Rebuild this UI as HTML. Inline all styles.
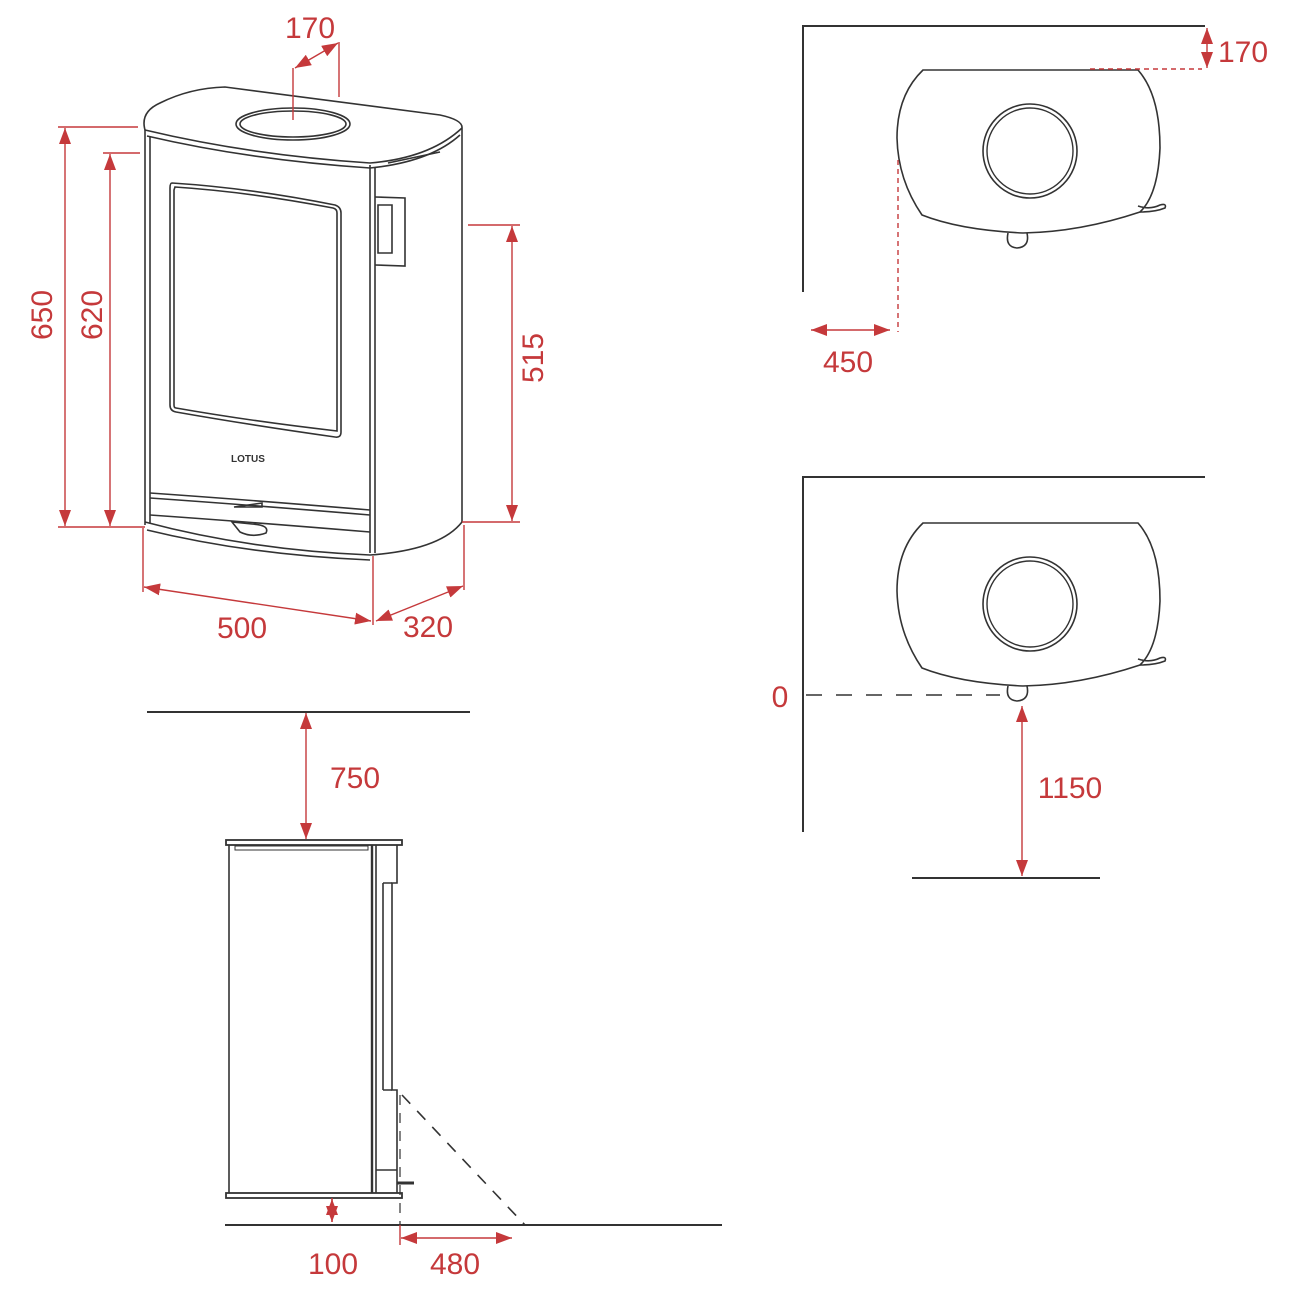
<!DOCTYPE html>
<html><head><meta charset="utf-8"><style>
html,body{margin:0;padding:0;background:#fff}
svg{display:block}
text{font-family:"Liberation Sans",sans-serif;font-size:30px;fill:#c5393b}
</style></head><body>
<svg width="1300" height="1300" viewBox="0 0 1300 1300" xmlns="http://www.w3.org/2000/svg">
<defs>
<marker id="a" viewBox="0 0 10 10" refX="9" refY="5" markerWidth="5" markerHeight="4" orient="auto-start-reverse" markerUnits="userSpaceOnUse" style="overflow:visible">
<path d="M0,0 L10,5 L0,10 z" fill="#c5393b" transform="scale(1.6,1.2) translate(-3.5,0.8)"/>
</marker>
<marker id="b" viewBox="0 0 16 12" refX="16" refY="6" markerWidth="16" markerHeight="12" orient="auto-start-reverse" markerUnits="userSpaceOnUse">
<path d="M0,0 L16,6 L0,12 z" fill="#c5393b"/>
</marker>
</defs>
<g fill="none" stroke="#333" stroke-width="1.6">
<!-- FRONT VIEW -->
<path d="M145,130 Q140,112 160,103 Q190,88 225,87 L440,115 Q463,120 462,128"/>
<path d="M145,130 Q250,155 370,163 Q430,158 462,128"/>
<path d="M147,136 Q250,160 370,168 Q430,162 460,135"/>
<ellipse cx="293" cy="124" rx="57" ry="16"/>
<ellipse cx="293" cy="124" rx="53" ry="13"/>
<path d="M145,130 L145,525"/><path d="M150,136 L150,523"/>
<path d="M462,128 L462,522"/>
<path d="M370,165 L370,553"/><path d="M375,167 L375,553"/>
<path d="M145,522 Q250,550 370,555 Q440,550 462,522"/>
<path d="M147,530 Q250,555 370,560"/>
<path d="M172,183 Q250,188 335,205 Q341,207 341,213 L341,432 Q341,438 335,437 Q250,425 176,412 Q170,411 170,405 L170,188 Q170,183 172,183 Z"/>
<path d="M175,187 Q250,192 333,208 Q337,209 337,213 L337,431 Q250,421 176,408 Q174,408 174,405 L174,190 Z"/>
<path d="M375,197 L405,198 L405,266 L375,265"/>
<path d="M378,205 L392,205 L392,253 L378,253 Z"/>
<path d="M150,493 Q250,500 370,510"/><path d="M150,498 Q250,505 370,515"/>
<path d="M234,507 L262,503 L262,507 Z"/>
<path d="M150,515 Q250,522 370,532"/>
<path d="M232,522 L252,524 Q270,525 266,533 Q252,538 240,532 Z"/>
<path d="M388,163 L440,152"/>
<!-- SIDE VIEW -->
<path d="M147,712 L470,712" stroke-width="2"/>
<rect x="226" y="840" width="176" height="5" stroke-width="1.8"/>
<path d="M235,846 L368,846 L368,850 L235,850 Z" stroke-width="1"/>
<path d="M229,845 L229,1193"/>
<path d="M372,845 L372,1193" stroke-width="2.4"/>
<path d="M376,845 L376,1193"/>
<path d="M397,845 L397,883 L392,883 L392,1090 L397,1090 L397,1193"/>
<path d="M383,883 L383,1090"/><path d="M383,883 L392,883 M383,1090 L392,1090"/>
<path d="M376,1170 L397,1170"/>
<path d="M397,1183 L414,1183" stroke-width="3"/>
<rect x="226" y="1193" width="176" height="5" stroke-width="1.8"/>
<path d="M225,1225 L722,1225" stroke-width="2"/>
<path d="M400,1095 L400,1225" stroke-dasharray="10,8" stroke-width="1.2"/>
<path d="M402,1095 L525,1225" stroke-dasharray="12,10" stroke-width="1.6"/>
<!-- TOP PLAN 1 -->
<path d="M803,292 L803,26 L1205,26" stroke-width="2"/>
<path d="M923,70 L1138,70 Q1160,95 1160,148 Q1158,195 1140,212 Q1080,232 1023,233 Q960,230 922,215 Q898,180 897,138 Q897,95 923,70 Z"/>
<circle cx="1030" cy="151" r="47" stroke-width="1.6"/>
<circle cx="1030" cy="151" r="43" stroke-width="1.4"/>
<path d="M1008,233 Q1005,247 1017,248 Q1030,247 1027,233"/>
<path d="M1140,212 Q1155,212 1165,208 Q1167,203 1160,205 Q1150,210 1138,206"/>
<!-- TOP PLAN 2 -->
<path d="M803,832 L803,477 L1205,477" stroke-width="2"/>
<g transform="translate(0,453)">
<path d="M923,70 L1138,70 Q1160,95 1160,148 Q1158,195 1140,212 Q1080,232 1023,233 Q960,230 922,215 Q898,180 897,138 Q897,95 923,70 Z"/>
<circle cx="1030" cy="151" r="47" stroke-width="1.6"/>
<circle cx="1030" cy="151" r="43" stroke-width="1.4"/>
<path d="M1008,233 Q1005,247 1017,248 Q1030,247 1027,233"/>
<path d="M1140,212 Q1155,212 1165,208 Q1167,203 1160,205 Q1150,210 1138,206"/>
</g>
<path d="M806,695 L1000,695" stroke-dasharray="16,14" stroke-width="1.6"/>
<path d="M912,878 L1100,878" stroke-width="2"/>
</g>
<!-- RED DIMENSIONS -->
<g fill="none" stroke="#c5393b" stroke-width="1.4">
<path d="M293,120 L293,68 M339,97 L339,42"/>
<path d="M58,127 L138,127 M58,527 L145,527 M103,153 L140,153"/>
<path d="M468,225 L520,225 M462,522 L520,522"/>
<path d="M143,528 L143,592 M373,556 L373,625 M464,525 L464,590"/>
<path d="M332,1198 L332,1222"/>
<path d="M400,1225 L400,1245"/>
<path d="M1090,69 L1202,69" stroke-dasharray="5,4"/>
<path d="M898,160 L898,332" stroke-dasharray="5,4"/>
<path d="M295,68 L338,43" marker-start="url(#b)" marker-end="url(#b)"/>
<path d="M65,128 L65,526" marker-start="url(#b)" marker-end="url(#b)"/>
<path d="M110,154 L110,526" marker-start="url(#b)" marker-end="url(#b)"/>
<path d="M512,226 L512,521" marker-start="url(#b)" marker-end="url(#b)"/>
<path d="M144,587 L371,621" marker-start="url(#b)" marker-end="url(#b)"/>
<path d="M376,621 L463,586" marker-start="url(#b)" marker-end="url(#b)"/>
<path d="M306,713 L306,839" marker-start="url(#b)" marker-end="url(#b)"/>
<path d="M332,1199 L332,1222" marker-start="url(#b)" marker-end="url(#b)"/>
<path d="M401,1238 L512,1238" marker-start="url(#b)" marker-end="url(#b)"/>
<path d="M1207,28 L1207,68" marker-start="url(#b)" marker-end="url(#b)"/>
<path d="M811,330 L890,330" marker-start="url(#b)" marker-end="url(#b)"/>
<path d="M1022,706 L1022,876" marker-start="url(#b)" marker-end="url(#b)"/>
</g>
<text x="310" y="38" text-anchor="middle">170</text>
<text transform="translate(52,315) rotate(-90)" text-anchor="middle">650</text>
<text transform="translate(102,315) rotate(-90)" text-anchor="middle">620</text>
<text transform="translate(543,358) rotate(-90)" text-anchor="middle">515</text>
<text x="242" y="638" text-anchor="middle">500</text>
<text x="428" y="637" text-anchor="middle">320</text>
<text x="355" y="788" text-anchor="middle">750</text>
<text x="333" y="1274" text-anchor="middle">100</text>
<text x="455" y="1274" text-anchor="middle">480</text>
<text x="1243" y="62" text-anchor="middle">170</text>
<text x="848" y="372" text-anchor="middle">450</text>
<text x="780" y="707" text-anchor="middle">0</text>
<text x="1070" y="798" text-anchor="middle">1150</text>
<text x="248" y="462" text-anchor="middle" style="font-size:10px;fill:#333;font-weight:bold">LOTUS</text>
</svg>
</body></html>
